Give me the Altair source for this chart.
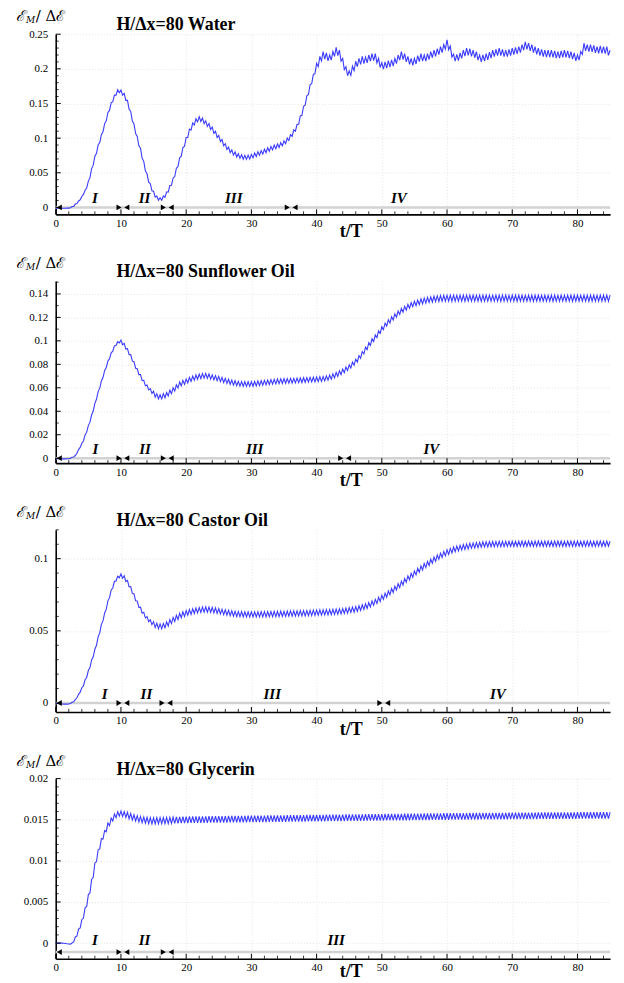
import altair as alt
import numpy as np
import pandas as pd

# ---------------------------------------------------------------------------
# Data.  hi[k] = value at t/T = 0.5k (upper turning
# points of the oscillation), lo[k] = value at t/T = 0.5k + 0.25 (lower ones).
# ---------------------------------------------------------------------------
water_hi = [
    -0.0010, -0.0010, -0.0012, -0.0012, -0.0010, 0.0013, 0.0048, 0.0093, 0.0158, 0.0248,
    0.0380, 0.0560, 0.0740, 0.0900, 0.1050, 0.1210, 0.1370, 0.1510, 0.1620, 0.1700,
    0.1695, 0.1645, 0.1545, 0.1385, 0.1205, 0.1025, 0.0855, 0.0665, 0.0485, 0.0345,
    0.0235, 0.0165, 0.0140, 0.0165, 0.0225, 0.0315, 0.0425, 0.0565, 0.0715, 0.0865,
    0.1010, 0.1130, 0.1220, 0.1280, 0.1310, 0.1290, 0.1250, 0.1210, 0.1160, 0.1100,
    0.1040, 0.0980, 0.0920, 0.0870, 0.0830, 0.0800, 0.0775, 0.0760, 0.0752, 0.0755,
    0.0765, 0.0785, 0.0805, 0.0820, 0.0840, 0.0860, 0.0880, 0.0900, 0.0915, 0.0935,
    0.0960, 0.1000, 0.1050, 0.1120, 0.1200, 0.1320, 0.1460, 0.1610, 0.1770, 0.1920,
    0.2080, 0.2180, 0.2250, 0.2230, 0.2200, 0.2250, 0.2310, 0.2270, 0.2150, 0.2030,
    0.1970, 0.2040, 0.2110, 0.2150, 0.2180, 0.2170, 0.2200, 0.2220, 0.2220, 0.2150,
    0.2090, 0.2100, 0.2120, 0.2130, 0.2150, 0.2200, 0.2250, 0.2220, 0.2180, 0.2150,
    0.2150, 0.2190, 0.2220, 0.2200, 0.2220, 0.2250, 0.2270, 0.2290, 0.2320, 0.2350,
    0.2420, 0.2330, 0.2210, 0.2210, 0.2230, 0.2270, 0.2300, 0.2290, 0.2270, 0.2250,
    0.2200, 0.2200, 0.2220, 0.2240, 0.2270, 0.2280, 0.2300, 0.2280, 0.2270, 0.2280,
    0.2300, 0.2310, 0.2320, 0.2350, 0.2390, 0.2370, 0.2350, 0.2320, 0.2300, 0.2280,
    0.2270, 0.2270, 0.2270, 0.2260, 0.2250, 0.2260, 0.2270, 0.2260, 0.2250, 0.2230,
    0.2200, 0.2250, 0.2370, 0.2350, 0.2350, 0.2340, 0.2320, 0.2330, 0.2320, 0.2320,
    0.2270,
]
water_lo = [
    -0.0010, -0.0011, -0.0012, -0.0011, -0.0005, 0.0015, 0.0055, 0.0110, 0.0187, 0.0280,
    0.0430, 0.0610, 0.0780, 0.0935, 0.1090, 0.1250, 0.1400, 0.1525, 0.1620, 0.1655,
    0.1620, 0.1545, 0.1415, 0.1245, 0.1065, 0.0890, 0.0710, 0.0525, 0.0365, 0.0240,
    0.0150, 0.0103, 0.0103, 0.0145, 0.0220, 0.0320, 0.0445, 0.0590, 0.0740, 0.0885,
    0.1010, 0.1115, 0.1190, 0.1235, 0.1240, 0.1210, 0.1170, 0.1125, 0.1070, 0.1010,
    0.0950, 0.0890, 0.0835, 0.0790, 0.0755, 0.0728, 0.0708, 0.0696, 0.0694, 0.0700,
    0.0715, 0.0735, 0.0753, 0.0770, 0.0790, 0.0810, 0.0830, 0.0848, 0.0865, 0.0888,
    0.0920, 0.0965, 0.1025, 0.1100, 0.1200, 0.1330, 0.1475, 0.1630, 0.1785, 0.1930,
    0.2030, 0.2115, 0.2140, 0.2115, 0.2125, 0.2180, 0.2190, 0.2110, 0.1990, 0.1900,
    0.1905, 0.1975, 0.2030, 0.2065, 0.2075, 0.2085, 0.2110, 0.2120, 0.2085, 0.2020,
    0.1995, 0.2010, 0.2025, 0.2040, 0.2075, 0.2125, 0.2135, 0.2100, 0.2065, 0.2050,
    0.2070, 0.2105, 0.2110, 0.2110, 0.2135, 0.2160, 0.2180, 0.2205, 0.2235, 0.2285,
    0.2275, 0.2170, 0.2110, 0.2120, 0.2150, 0.2185, 0.2195, 0.2180, 0.2160, 0.2125,
    0.2100, 0.2110, 0.2130, 0.2155, 0.2175, 0.2190, 0.2190, 0.2175, 0.2175, 0.2190,
    0.2205, 0.2215, 0.2235, 0.2270, 0.2280, 0.2260, 0.2235, 0.2210, 0.2190, 0.2175,
    0.2170, 0.2170, 0.2165, 0.2155, 0.2155, 0.2165, 0.2165, 0.2155, 0.2140, 0.2115,
    0.2125, 0.2210, 0.2260, 0.2250, 0.2245, 0.2230, 0.2225, 0.2225, 0.2220, 0.2195,
]

sun_hi = [
    -0.0003, -0.0005, -0.0006, -0.0006, -0.0004, 0.0008, 0.0023, 0.0073, 0.0128, 0.0198,
    0.0278, 0.0368, 0.0468, 0.0568, 0.0658, 0.0748, 0.0828, 0.0898, 0.0958, 0.0993,
    0.1007, 0.0978, 0.0933, 0.0883, 0.0823, 0.0763, 0.0713, 0.0663, 0.0623, 0.0593,
    0.0570, 0.0550, 0.0540, 0.0550, 0.0560, 0.0580, 0.0600, 0.0625, 0.0650, 0.0663,
    0.0675, 0.0688, 0.0700, 0.0709, 0.0717, 0.0721, 0.0723, 0.0718, 0.0710, 0.0704,
    0.0697, 0.0689, 0.0680, 0.0673, 0.0666, 0.0660, 0.0655, 0.0653, 0.0652, 0.0652,
    0.0652, 0.0654, 0.0658, 0.0660, 0.0663, 0.0666, 0.0670, 0.0672, 0.0675, 0.0676,
    0.0678, 0.0679, 0.0680, 0.0681, 0.0683, 0.0684, 0.0686, 0.0687, 0.0689, 0.0690,
    0.0692, 0.0694, 0.0696, 0.0701, 0.0709, 0.0719, 0.0731, 0.0745, 0.0760, 0.0777,
    0.0796, 0.0819, 0.0844, 0.0875, 0.0909, 0.0947, 0.0985, 0.1018, 0.1050, 0.1085,
    0.1120, 0.1151, 0.1180, 0.1206, 0.1230, 0.1254, 0.1276, 0.1294, 0.1310, 0.1325,
    0.1338, 0.1348, 0.1358, 0.1364, 0.1370, 0.1375, 0.1380, 0.1383, 0.1386, 0.1388,
    0.1389, 0.1389, 0.1390, 0.1389, 0.1390, 0.1390, 0.1389, 0.1390, 0.1390, 0.1389,
    0.1390, 0.1389, 0.1390, 0.1390, 0.1389, 0.1390, 0.1389, 0.1390, 0.1390, 0.1389,
    0.1390, 0.1390, 0.1389, 0.1390, 0.1389, 0.1390, 0.1390, 0.1389, 0.1390, 0.1389,
    0.1390, 0.1389, 0.1390, 0.1390, 0.1389, 0.1390, 0.1389, 0.1390, 0.1390, 0.1389,
    0.1390, 0.1389, 0.1390, 0.1390, 0.1389, 0.1390, 0.1389, 0.1390, 0.1390, 0.1389,
    0.1390,
]
sun_lo = [
    -0.0004, -0.0006, -0.0006, -0.0005, 0.0000, 0.0010, 0.0042, 0.0092, 0.0147, 0.0222,
    0.0307, 0.0402, 0.0502, 0.0597, 0.0687, 0.0772, 0.0847, 0.0912, 0.0960, 0.0982,
    0.0967, 0.0930, 0.0882, 0.0827, 0.0767, 0.0712, 0.0662, 0.0617, 0.0582, 0.0552,
    0.0520, 0.0505, 0.0505, 0.0515, 0.0530, 0.0550, 0.0573, 0.0598, 0.0617, 0.0629,
    0.0642, 0.0654, 0.0665, 0.0673, 0.0679, 0.0682, 0.0681, 0.0674, 0.0667, 0.0661,
    0.0653, 0.0645, 0.0637, 0.0630, 0.0623, 0.0618, 0.0614, 0.0613, 0.0612, 0.0612,
    0.0613, 0.0616, 0.0619, 0.0622, 0.0625, 0.0628, 0.0631, 0.0634, 0.0636, 0.0637,
    0.0639, 0.0640, 0.0641, 0.0642, 0.0644, 0.0645, 0.0647, 0.0648, 0.0650, 0.0651,
    0.0653, 0.0655, 0.0659, 0.0665, 0.0674, 0.0685, 0.0698, 0.0713, 0.0729, 0.0747,
    0.0768, 0.0792, 0.0820, 0.0852, 0.0888, 0.0926, 0.0962, 0.0994, 0.1028, 0.1063,
    0.1096, 0.1126, 0.1153, 0.1178, 0.1202, 0.1225, 0.1245, 0.1262, 0.1278, 0.1292,
    0.1300, 0.1309, 0.1316, 0.1322, 0.1327, 0.1331, 0.1334, 0.1336, 0.1337, 0.1338,
    0.1338, 0.1337, 0.1338, 0.1339, 0.1338, 0.1337, 0.1338, 0.1338, 0.1339, 0.1338,
    0.1337, 0.1338, 0.1338, 0.1339, 0.1338, 0.1338, 0.1337, 0.1338, 0.1338, 0.1339,
    0.1338, 0.1337, 0.1338, 0.1338, 0.1339, 0.1338, 0.1337, 0.1338, 0.1338, 0.1338,
    0.1339, 0.1338, 0.1337, 0.1338, 0.1338, 0.1339, 0.1338, 0.1338, 0.1337, 0.1338,
    0.1338, 0.1339, 0.1338, 0.1337, 0.1338, 0.1338, 0.1339, 0.1338, 0.1338, 0.1337,
]

cas_hi = [
    -0.0003, -0.0005, -0.0007, -0.0008, -0.0007, 0.0005, 0.0023, 0.0060, 0.0106, 0.0161,
    0.0225, 0.0298, 0.0373, 0.0458, 0.0545, 0.0624, 0.0708, 0.0783, 0.0843, 0.0878,
    0.0894, 0.0882, 0.0850, 0.0807, 0.0757, 0.0707, 0.0664, 0.0628, 0.0599, 0.0576,
    0.0564, 0.0553, 0.0548, 0.0551, 0.0562, 0.0578, 0.0593, 0.0608, 0.0621, 0.0632,
    0.0640, 0.0647, 0.0653, 0.0658, 0.0662, 0.0665, 0.0666, 0.0665, 0.0663, 0.0659,
    0.0655, 0.0650, 0.0646, 0.0642, 0.0639, 0.0636, 0.0634, 0.0633, 0.0632, 0.0632,
    0.0632, 0.0632, 0.0632, 0.0633, 0.0633, 0.0634, 0.0634, 0.0635, 0.0635, 0.0636,
    0.0636, 0.0637, 0.0638, 0.0638, 0.0639, 0.0640, 0.0640, 0.0641, 0.0642, 0.0643,
    0.0644, 0.0645, 0.0646, 0.0647, 0.0648, 0.0649, 0.0651, 0.0653, 0.0655, 0.0658,
    0.0661, 0.0664, 0.0668, 0.0674, 0.0680, 0.0688, 0.0696, 0.0707, 0.0718, 0.0732,
    0.0746, 0.0761, 0.0776, 0.0793, 0.0810, 0.0827, 0.0844, 0.0863, 0.0881, 0.0898,
    0.0915, 0.0933, 0.0950, 0.0966, 0.0981, 0.0996, 0.1011, 0.1025, 0.1038, 0.1050,
    0.1061, 0.1071, 0.1080, 0.1087, 0.1093, 0.1098, 0.1102, 0.1106, 0.1109, 0.1112,
    0.1114, 0.1116, 0.1117, 0.1118, 0.1119, 0.1119, 0.1120, 0.1120, 0.1120, 0.1121,
    0.1121, 0.1121, 0.1121, 0.1122, 0.1121, 0.1122, 0.1121, 0.1122, 0.1122, 0.1121,
    0.1122, 0.1122, 0.1121, 0.1122, 0.1122, 0.1122, 0.1121, 0.1122, 0.1122, 0.1122,
    0.1122, 0.1121, 0.1122, 0.1122, 0.1122, 0.1121, 0.1122, 0.1122, 0.1121, 0.1122,
    0.1121,
]
cas_lo = [
    -0.0004, -0.0006, -0.0008, -0.0008, -0.0004, 0.0008, 0.0036, 0.0075, 0.0118, 0.0177,
    0.0246, 0.0320, 0.0400, 0.0486, 0.0569, 0.0650, 0.0730, 0.0797, 0.0845, 0.0868,
    0.0864, 0.0842, 0.0805, 0.0758, 0.0708, 0.0662, 0.0622, 0.0590, 0.0564, 0.0543,
    0.0523, 0.0515, 0.0514, 0.0521, 0.0534, 0.0550, 0.0565, 0.0579, 0.0591, 0.0600,
    0.0608, 0.0614, 0.0620, 0.0624, 0.0628, 0.0630, 0.0630, 0.0628, 0.0625, 0.0621,
    0.0617, 0.0612, 0.0608, 0.0605, 0.0602, 0.0599, 0.0598, 0.0597, 0.0596, 0.0596,
    0.0596, 0.0596, 0.0596, 0.0597, 0.0597, 0.0598, 0.0598, 0.0599, 0.0599, 0.0600,
    0.0600, 0.0601, 0.0602, 0.0602, 0.0603, 0.0604, 0.0604, 0.0605, 0.0606, 0.0607,
    0.0608, 0.0609, 0.0610, 0.0611, 0.0612, 0.0614, 0.0616, 0.0618, 0.0620, 0.0623,
    0.0627, 0.0630, 0.0635, 0.0641, 0.0648, 0.0656, 0.0666, 0.0677, 0.0689, 0.0703,
    0.0718, 0.0733, 0.0749, 0.0766, 0.0783, 0.0800, 0.0818, 0.0836, 0.0854, 0.0871,
    0.0888, 0.0906, 0.0922, 0.0938, 0.0953, 0.0968, 0.0982, 0.0996, 0.1008, 0.1020,
    0.1030, 0.1040, 0.1048, 0.1054, 0.1060, 0.1064, 0.1068, 0.1072, 0.1075, 0.1077,
    0.1079, 0.1081, 0.1082, 0.1083, 0.1083, 0.1084, 0.1084, 0.1084, 0.1085, 0.1085,
    0.1085, 0.1085, 0.1086, 0.1085, 0.1085, 0.1086, 0.1085, 0.1085, 0.1086, 0.1085,
    0.1085, 0.1086, 0.1085, 0.1085, 0.1086, 0.1085, 0.1085, 0.1086, 0.1085, 0.1085,
    0.1086, 0.1085, 0.1085, 0.1086, 0.1085, 0.1085, 0.1086, 0.1085, 0.1085, 0.1086,
]

gly_hi = [
    0.00000, 0.00000, 0.00000, -0.00005, -0.00010, 0.00002, 0.00075, 0.00170, 0.00285, 0.00430,
    0.00590, 0.00775, 0.00975, 0.01135, 0.01270, 0.01370, 0.01460, 0.01520, 0.01570, 0.01598,
    0.01605, 0.01600, 0.01590, 0.01575, 0.01560, 0.01550, 0.01540, 0.01532, 0.01528, 0.01525,
    0.01524, 0.01525, 0.01526, 0.01527, 0.01528, 0.01530, 0.01532, 0.01534, 0.01536, 0.01538,
    0.01539, 0.01540, 0.01540, 0.01541, 0.01541, 0.01542, 0.01542, 0.01543, 0.01543, 0.01544,
    0.01544, 0.01545, 0.01545, 0.01546, 0.01546, 0.01547, 0.01547, 0.01548, 0.01548, 0.01549,
    0.01549, 0.01550, 0.01550, 0.01551, 0.01551, 0.01552, 0.01552, 0.01553, 0.01553, 0.01554,
    0.01554, 0.01555, 0.01555, 0.01556, 0.01556, 0.01557, 0.01557, 0.01558, 0.01558, 0.01559,
    0.01559, 0.01560, 0.01560, 0.01561, 0.01561, 0.01562, 0.01562, 0.01563, 0.01563, 0.01564,
    0.01564, 0.01565, 0.01565, 0.01566, 0.01566, 0.01567, 0.01567, 0.01568, 0.01568, 0.01569,
    0.01569, 0.01570, 0.01570, 0.01571, 0.01571, 0.01572, 0.01572, 0.01573, 0.01573, 0.01574,
    0.01574, 0.01575, 0.01575, 0.01576, 0.01576, 0.01577, 0.01577, 0.01578, 0.01578, 0.01579,
    0.01579, 0.01580, 0.01580, 0.01580, 0.01581, 0.01581, 0.01581, 0.01582, 0.01582, 0.01582,
    0.01583, 0.01583, 0.01583, 0.01584, 0.01584, 0.01584, 0.01585, 0.01585, 0.01585, 0.01586,
    0.01586, 0.01586, 0.01587, 0.01587, 0.01587, 0.01588, 0.01588, 0.01588, 0.01589, 0.01589,
    0.01589, 0.01589, 0.01590, 0.01590, 0.01590, 0.01590, 0.01591, 0.01591, 0.01591, 0.01591,
    0.01592, 0.01592, 0.01592, 0.01592, 0.01593, 0.01593, 0.01593, 0.01593, 0.01594, 0.01594,
    0.01594,
]
gly_lo = [
    0.00000, 0.00000, -0.00002, -0.00008, -0.00012, 0.00015, 0.00085, 0.00185, 0.00305, 0.00445,
    0.00610, 0.00800, 0.00990, 0.01145, 0.01265, 0.01355, 0.01430, 0.01485, 0.01525, 0.01545,
    0.01540, 0.01528, 0.01512, 0.01497, 0.01485, 0.01474, 0.01465, 0.01458, 0.01453, 0.01451,
    0.01450, 0.01451, 0.01452, 0.01453, 0.01454, 0.01455, 0.01456, 0.01457, 0.01458, 0.01459,
    0.01460, 0.01461, 0.01461, 0.01462, 0.01462, 0.01463, 0.01463, 0.01464, 0.01464, 0.01465,
    0.01465, 0.01466, 0.01466, 0.01467, 0.01467, 0.01468, 0.01468, 0.01469, 0.01469, 0.01470,
    0.01470, 0.01471, 0.01471, 0.01472, 0.01472, 0.01473, 0.01473, 0.01474, 0.01474, 0.01475,
    0.01475, 0.01476, 0.01476, 0.01477, 0.01477, 0.01478, 0.01478, 0.01479, 0.01479, 0.01480,
    0.01480, 0.01481, 0.01481, 0.01482, 0.01482, 0.01483, 0.01483, 0.01484, 0.01484, 0.01485,
    0.01485, 0.01486, 0.01486, 0.01487, 0.01487, 0.01488, 0.01488, 0.01489, 0.01489, 0.01490,
    0.01490, 0.01491, 0.01491, 0.01492, 0.01492, 0.01493, 0.01493, 0.01494, 0.01494, 0.01495,
    0.01495, 0.01496, 0.01496, 0.01497, 0.01497, 0.01498, 0.01498, 0.01499, 0.01499, 0.01500,
    0.01500, 0.01501, 0.01501, 0.01501, 0.01502, 0.01502, 0.01502, 0.01503, 0.01503, 0.01503,
    0.01504, 0.01504, 0.01504, 0.01505, 0.01505, 0.01505, 0.01506, 0.01506, 0.01506, 0.01507,
    0.01507, 0.01507, 0.01508, 0.01508, 0.01508, 0.01509, 0.01509, 0.01509, 0.01510, 0.01510,
    0.01510, 0.01510, 0.01511, 0.01511, 0.01511, 0.01511, 0.01512, 0.01512, 0.01512, 0.01512,
    0.01513, 0.01513, 0.01513, 0.01513, 0.01514, 0.01514, 0.01514, 0.01514, 0.01515, 0.01515,
]

titles = ["H/\u0394x=80 Water", "H/\u0394x=80 Sunflower Oil",
          "H/\u0394x=80 Castor Oil", "H/\u0394x=80 Glycerin"]

# regime boundaries (t/T) and regime labels with their positions
water_bounds = [10.3, 17.1, 36.1]
sun_bounds = [10.3, 17.1, 44.3]
cas_bounds = [10.3, 16.9, 50.3]
gly_bounds = [10.3, 17.1]
regime_names_4 = ["I", "II", "III", "IV"]
regime_names_3 = ["I", "II", "III"]
water_label_t = [6.0, 13.6, 27.3, 52.6]
sun_label_t = [6.1, 13.7, 30.5, 57.6]
cas_label_t = [7.5, 13.9, 33.2, 67.8]
gly_label_t = [6.0, 13.6, 43.0]

# y tick labels
water_yticks = [0, 0.05, 0.1, 0.15, 0.2, 0.25]
sun_yticks = [0, 0.02, 0.04, 0.06, 0.08, 0.1, 0.12, 0.14]
cas_yticks = [0, 0.05, 0.1]
gly_yticks = [0, 0.005, 0.01, 0.015, 0.02]
x_ticks = [0, 10, 20, 30, 40, 50, 60, 70, 80]

# ---------------------------------------------------------------------------
W = 557
LINE_BLUE = "#3b3bff"
SERIF = "Liberation Serif"

panels = [
    dict(title=titles[0], hi=water_hi, lo=water_lo, dom=[-0.0100, 0.25],
         major=water_yticks, minor=0.01, height=181, bar=0.0, bounds=water_bounds,
         names=regime_names_4, label_t=water_label_t, label_dy=-4, xlab_dy=18),
    dict(title=titles[1], hi=sun_hi, lo=sun_lo, dom=[-0.0042, 0.151],
         major=sun_yticks, minor=0.01, height=183, bar=0.0, bounds=sun_bounds,
         names=regime_names_4, label_t=sun_label_t, label_dy=-4, xlab_dy=18),
    dict(title=titles[2], hi=cas_hi, lo=cas_lo, dom=[-0.0062, 0.12],
         major=cas_yticks, minor=0.01, height=183, bar=0.0, bounds=cas_bounds,
         names=regime_names_4, label_t=cas_label_t, label_dy=-4, xlab_dy=18),
    dict(title=titles[3], hi=gly_hi, lo=gly_lo, dom=[-0.0019, 0.02],
         major=gly_yticks, minor=0.001, height=181, bar=-0.00109, bounds=gly_bounds,
         names=regime_names_3, label_t=gly_label_t, label_dy=-7, xlab_dy=13),
]


def make_series(hi, lo):
    t = [0.5 * k for k in range(len(hi))] + [0.5 * k + 0.25 for k in range(len(lo))]
    v = list(hi) + list(lo)
    df = pd.DataFrame({"t": t, "v": v}).sort_values("t")
    return df[df.t <= 85].reset_index(drop=True)


def build(p):
    H = p["height"]
    xs = alt.Scale(domain=[0, 85], nice=False, zero=False)
    ys = alt.Scale(domain=p["dom"], nice=False, zero=False)
    xaxis = alt.Axis(values=x_ticks, title=None, grid=True, gridColor="#e4e4e4",
                     gridDash=[1, 2], ticks=False, domainColor="black", domainWidth=1.6,
                     labelFont=SERIF, labelFontSize=11, labelPadding=3,
                     labelColor="black", labelFlush=False)
    yaxis = alt.Axis(values=p["major"], format="~g", title=None, grid=True,
                     gridColor="#e4e4e4", gridDash=[1, 2], ticks=False,
                     domainColor="black", domainWidth=1.6, labelFont=SERIF,
                     labelFontSize=11, labelPadding=8, labelColor="black")

    def X():
        return alt.X("t:Q", scale=xs, axis=xaxis)

    def Y():
        return alt.Y("v:Q", scale=ys, axis=yaxis)

    one = pd.DataFrame({"a": [0]})

    bar = alt.Chart(pd.DataFrame({"v": [p["bar"]]})).mark_rule(
        color="#d2d2d2", strokeWidth=2.5).encode(
        x=alt.value(0), x2=alt.value(W), y=Y())

    line = alt.Chart(make_series(p["hi"], p["lo"])).mark_line(
        color=LINE_BLUE, strokeWidth=1.1).encode(x=X(), y=Y())

    right_heads = pd.DataFrame({"t": [b - 0.6 for b in p["bounds"]],
                                "v": [p["bar"]] * len(p["bounds"])})
    left_heads = pd.DataFrame({"t": [0.55] + [b + 0.6 for b in p["bounds"]],
                               "v": [p["bar"]] * (len(p["bounds"]) + 1)})
    tri_r = alt.Chart(right_heads).mark_point(
        shape="triangle-right", filled=True, color="black", opacity=1, size=34
    ).encode(x=X(), y=Y())
    tri_l = alt.Chart(left_heads).mark_point(
        shape="triangle-left", filled=True, color="black", opacity=1, size=34
    ).encode(x=X(), y=Y())

    labels_df = pd.DataFrame({"t": p["label_t"], "v": [p["bar"]] * len(p["label_t"]),
                              "name": p["names"]})
    labels = alt.Chart(labels_df).mark_text(
        font=SERIF, fontSize=15, fontWeight="bold", fontStyle="italic",
        baseline="alphabetic", align="center", color="black", dy=p["label_dy"]
    ).encode(x=X(), y=Y(), text="name:N")

    # inward tick marks
    xmaj = pd.DataFrame({"t": x_ticks})
    xmin = pd.DataFrame({"t": [v for v in range(2, 85, 2) if v % 10 != 0]})
    xt_major = alt.Chart(xmaj).mark_rule(color="black", strokeWidth=1).encode(
        x=X(), y=alt.value(H), y2=alt.value(H - 5))
    xt_minor = alt.Chart(xmin).mark_rule(color="black", strokeWidth=0.8).encode(
        x=X(), y=alt.value(H), y2=alt.value(H - 3))
    top = p["dom"][1]
    minor_vals = [round(v, 6) for v in np.arange(0, top + 1e-9, p["minor"])]
    minor_vals = [v for v in minor_vals
                  if all(abs(v - m) > 1e-9 for m in p["major"])]
    yt_major = alt.Chart(pd.DataFrame({"v": p["major"]})).mark_rule(
        color="black", strokeWidth=1).encode(y=Y(), x=alt.value(0), x2=alt.value(5))
    yt_minor = alt.Chart(pd.DataFrame({"v": minor_vals})).mark_rule(
        color="black", strokeWidth=0.8).encode(y=Y(), x=alt.value(0), x2=alt.value(3))

    title = alt.Chart(one).mark_text(
        text=p["title"], font=SERIF, fontSize=18, fontWeight="bold",
        align="left", baseline="middle", color="black"
    ).encode(x=alt.value(61), y=alt.value(-9))

    ylab1 = alt.Chart(one).mark_text(
        text="\u2130", font="DejaVu Serif", fontSize=15, fontStyle="italic",
        align="left", baseline="middle", color="black"
    ).encode(x=alt.value(-40), y=alt.value(-18))
    ylab2 = alt.Chart(one).mark_text(
        text="M", font="DejaVu Serif", fontSize=9, fontStyle="italic",
        align="left", baseline="middle", color="black"
    ).encode(x=alt.value(-30), y=alt.value(-14))
    ylab3 = alt.Chart(one).mark_text(
        text="/ \u0394\u2130", font="DejaVu Serif", fontSize=15,
        align="left", baseline="middle", color="black"
    ).encode(x=alt.value(-20), y=alt.value(-18))

    xlab = alt.Chart(one).mark_text(
        text="t/T", font=SERIF, fontSize=18, fontWeight="bold",
        align="center", baseline="middle", color="black"
    ).encode(x=alt.value(297), y=alt.value(H + p["xlab_dy"]))

    return alt.layer(bar, line, tri_r, tri_l, labels, xt_major, xt_minor,
                     yt_major, yt_minor, title, ylab1, ylab2, ylab3, xlab
                     ).properties(width=W, height=H)


chart = alt.vconcat(*[build(p) for p in panels], spacing=67, bounds="flush").properties(
    padding={"left": 16, "top": 7, "right": 11, "bottom": 2},
    background="white",
).configure_view(stroke=None).configure_axis(
    labelFont=SERIF, labelFontSize=11, labelColor="black"
)

chart.save("out.html", embed_options={"renderer": "svg", "actions": False})
